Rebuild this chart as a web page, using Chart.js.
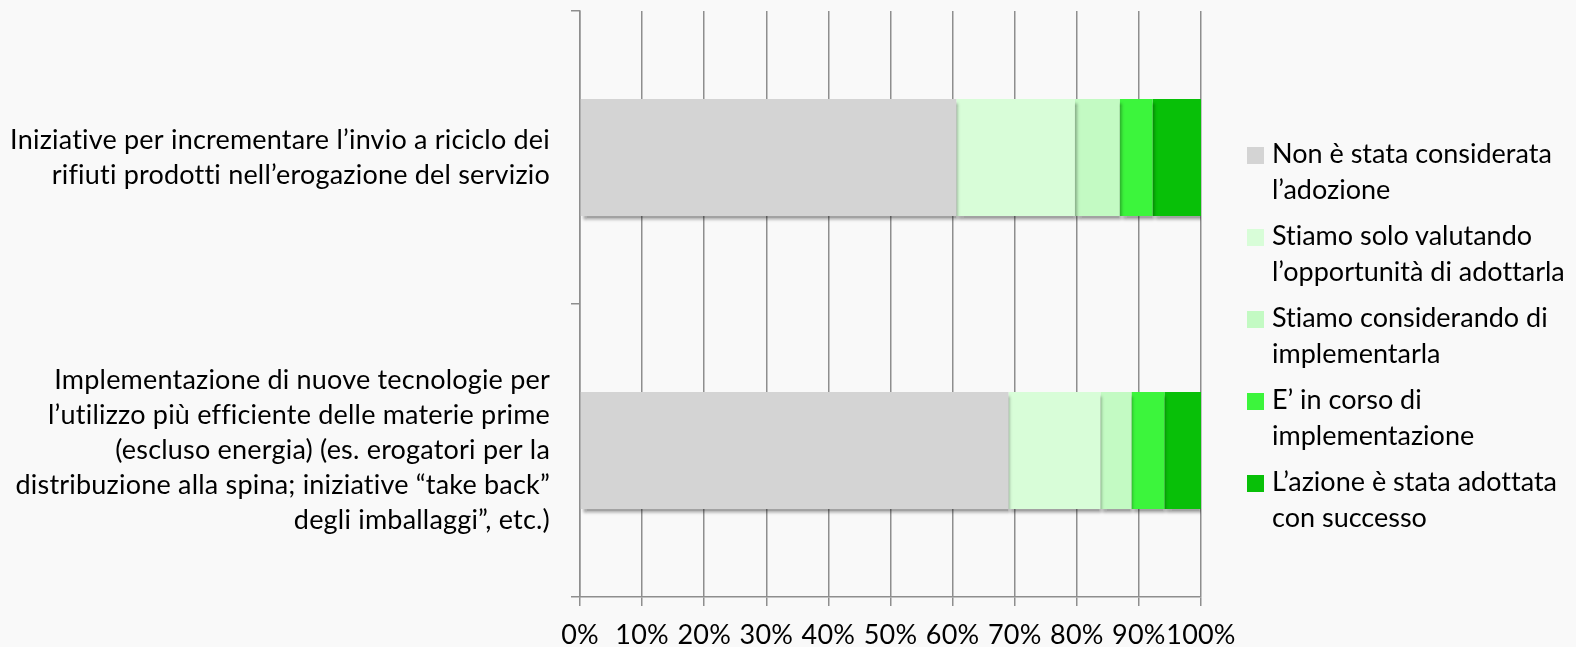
<!DOCTYPE html>
<html>
<head>
<meta charset="utf-8">
<script src="https://cdn.jsdelivr.net/npm/chart.js@4.4.1/dist/chart.umd.min.js"></script>
<style>
  html, body { margin: 0; padding: 0; background: #f9f9f9; }
  #wrap { position: relative; width: 1576px; height: 647px; }
  #legend { position: absolute; left: 0; top: 0; font-family: Lato, sans-serif; font-size: 27px; color: #000; font-variant-ligatures: none; }
  .item { position: absolute; left: 1272px; line-height: 36px; white-space: nowrap; }
  .box { position: absolute; left: -25px; top: 12px; width: 17px; height: 17px; }
</style>
</head>
<body>
<div id="wrap">
  <canvas id="myChart" width="1576" height="647"></canvas>
  <div id="legend"></div>
</div>
<script>
// categories (top to bottom)
const categories = [
  ['Iniziative per incrementare l\u2019invio a riciclo dei', 'rifiuti prodotti nell\u2019erogazione del servizio'],
  ['Implementazione di nuove tecnologie per', 'l\u2019utilizzo pi\u00f9 efficiente delle materie prime', '(escluso energia) (es. erogatori per la', 'distribuzione alla spina; iniziative \u201ctake back\u201d', 'degli imballaggi\u201d, etc.)']
];

// legend names
const seriesNames = [
  ['Non \u00e8 stata considerata', 'l\u2019adozione'],
  ['Stiamo solo valutando', 'l\u2019opportunit\u00e0 di adottarla'],
  ['Stiamo considerando di', 'implementarla'],
  ['E\u2019 in corso di', 'implementazione'],
  ['L\u2019azione \u00e8 stata adottata', 'con successo']
];

// percent values per series, one per category
const nonConsiderata = [60.6, 69.0];
const valutando = [19.1, 14.8];
const considerando = [7.2, 5.0];
const inCorso = [5.3, 5.3];
const adottata = [7.8, 5.9];

const seriesColors = ['#d4d4d4', '#d8fdd8', '#c3fac3', '#3cf53c', '#08c008'];
const xTicks = [0, 10, 20, 30, 40, 50, 60, 70, 80, 90, 100];

const seriesValues = [nonConsiderata, valutando, considerando, inCorso, adottata];

// a bit of letter spacing, also keeps the canvas text free of ligatures
const textSpacing = {
    id: 'textSpacing',
    beforeDraw: (chart) => {
        chart.ctx.letterSpacing = '0.2px';
    }
};

const barShadow = {
    id: 'barShadow',
    beforeDatasetsDraw: (chart) => {
        const ctx = chart.ctx;
        ctx.save();
        ctx.shadowColor = 'rgba(0,0,0,0.35)';
        ctx.shadowOffsetX = 2;
        ctx.shadowOffsetY = 4;
        ctx.shadowBlur = 3;
    },
    afterDatasetsDraw: (chart) => {
        chart.ctx.restore();
    }
};

const gridColor = '#8e8e8e';

const data = {
    labels: categories,
    datasets: seriesValues.map((vals, i) => ({
        label: seriesNames[i].join(' '),
        data: vals,
        backgroundColor: seriesColors[i],
        borderWidth: 0,
        categoryPercentage: 1.0,
        barPercentage: 0.4
    }))
};

const config = {
    type: 'bar',
    data,
    options: {
        indexAxis: 'y',
        responsive: false,
        animation: false,
        layout: { padding: { top: 11, right: 375, bottom: 0, left: 0 } },
        plugins: {
            legend: { display: false },
            tooltip: { enabled: false }
        },
        scales: {
            x: {
                stacked: true,
                min: 0,
                max: 100,
                afterBuildTicks: (scale) => {
                    scale.ticks = xTicks.map(v => ({ value: v }));
                },
                afterFit: (scale) => {
                    scale.height = 50;
                    scale.paddingLeft = 0;
                    scale.paddingRight = 0;
                },
                grid: { color: gridColor, lineWidth: 1.5, tickLength: 9 },
                border: { color: gridColor, width: 1.5 },
                ticks: {
                    color: '#000',
                    padding: 13,
                    autoSkip: false,
                    maxRotation: 0,
                    font: { family: 'Lato', size: 27, lineHeight: 1.2 },
                    callback: (v) => v + '%'
                }
            },
            y: {
                stacked: true,
                afterFit: (scale) => {
                    scale.width = 580;
                    scale.paddingTop = 0;
                    scale.paddingBottom = 0;
                },
                grid: { offset: true, drawOnChartArea: false, color: gridColor, lineWidth: 1.5, tickLength: 9 },
                border: { color: gridColor, width: 1.5 },
                ticks: { color: '#000', padding: 21, font: { family: 'Lato', size: 27, lineHeight: 1.3 } }
            }
        }
    },
    plugins: [textSpacing, barShadow]
};

const myChart = new Chart(document.getElementById('myChart'), config);

// legend on the right
const legendTops = [135, 217, 299, 381, 463];
let html = '';
seriesNames.forEach((name, i) => {
    html += '<div class="item" style="top:' + legendTops[i] + 'px">' +
        '<span class="box" style="background:' + seriesColors[i] + '"></span>' +
        name.join('<br>') + '</div>';
});
document.getElementById('legend').innerHTML = html;
</script>
</body>
</html>
